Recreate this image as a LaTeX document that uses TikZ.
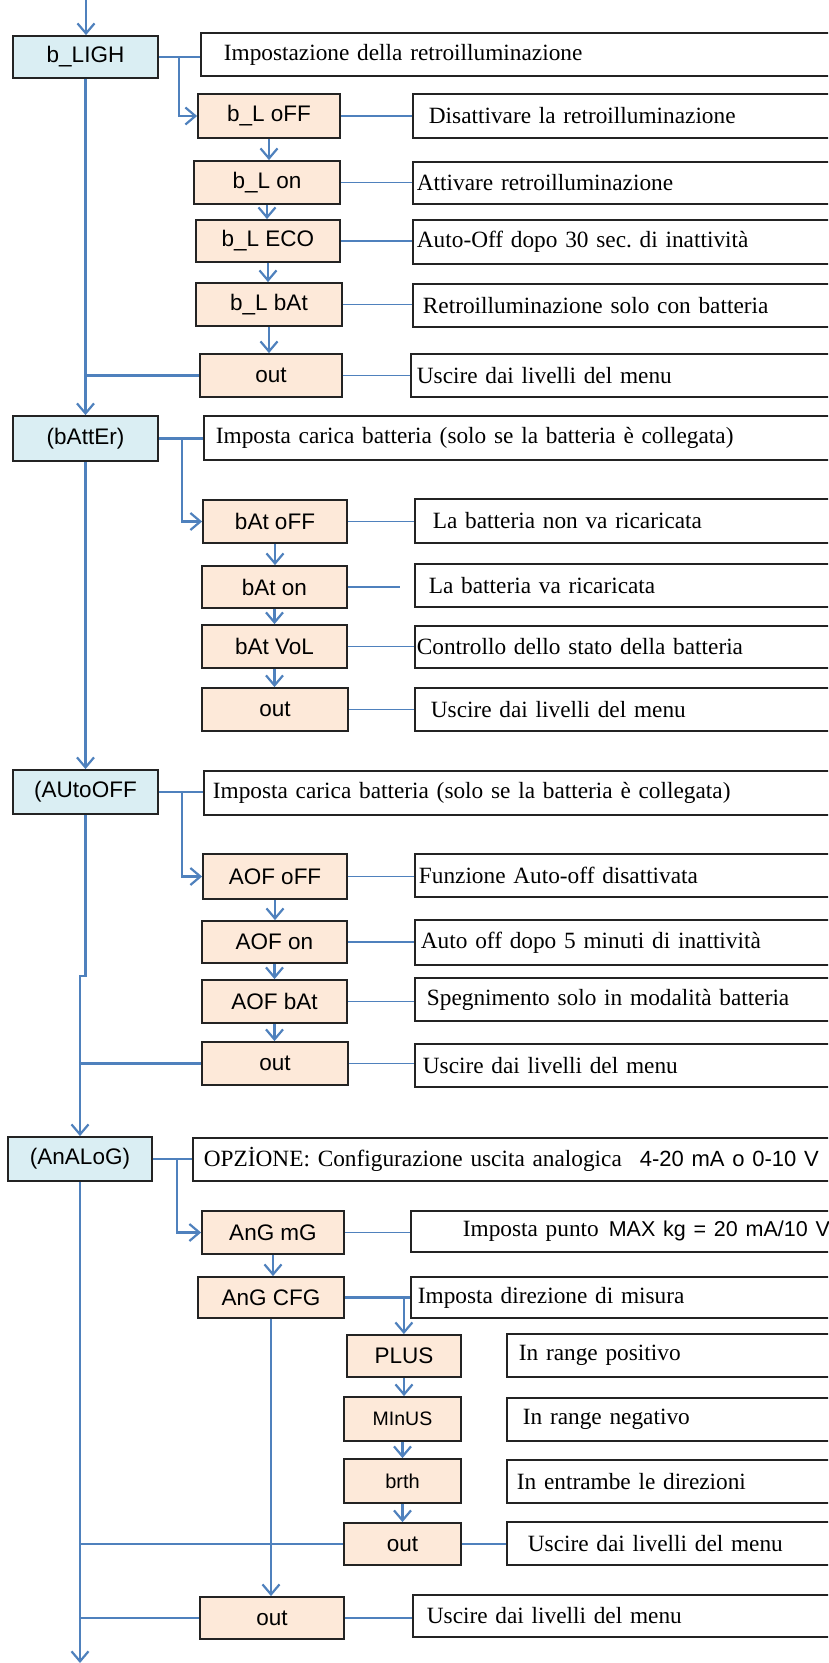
\documentclass[tikz,border=0pt]{standalone}
\usepackage{fontspec}
\setmainfont{Liberation Serif}
\setsansfont{Liberation Sans}
\usetikzlibrary{arrows.meta,calc}
\definecolor{lineblue}{RGB}{79,129,189}
\definecolor{mainfill}{RGB}{218,238,243}
\definecolor{subfill}{RGB}{253,233,217}
\definecolor{bordercol}{RGB}{35,35,35}
\newcommand\mkbox[7]{%
  \pgfmathsetmacro\bw{#5-#3}\pgfmathsetmacro\bh{#6-#4}%
  \pgfmathsetmacro\bcx{(#3+#5)/2}\pgfmathsetmacro\bcy{(#4+#6)/2}%
  \node[#1, minimum width=\bw pt, minimum height=\bh pt] (#2) at (\bcx,\bcy) {#7};}
\newcommand\mkdesc[6]{%
  \pgfmathsetmacro\dh{#4-#3}\pgfmathsetmacro\dcy{(#3+#4)/2}%
  \pgfmathsetmacro\dtw{840-#2}%
  \node[desc, minimum height=\dh pt, text width=\dtw pt, anchor=west] (#1) at (#2,\dcy) {\hspace*{#5pt}#6};}
\begin{document}
\frenchspacing
\begin{tikzpicture}[x=1pt,y=-1pt,
  mainbox/.style={draw=bordercol, line width=1.8pt, fill=mainfill, inner sep=0pt,
    font=\sffamily\fontsize{22.5}{26}\selectfont},
  subbox/.style={draw=bordercol, line width=1.8pt, fill=subfill, inner sep=0pt,
    font=\sffamily\fontsize{22.5}{26}\selectfont},
  desc/.style={draw=bordercol, line width=1.8pt, fill=white, inner sep=0pt, align=left,
    font=\fontsize{23.3}{27}\selectfont},
  conn/.style={draw=lineblue, line width=2.2pt},
  thinconn/.style={draw=lineblue, line width=1.6pt},
  arr/.style={conn, -{Straight Barb[length=10pt,width=17pt]}}]
\useasboundingbox (0,0) rectangle (828,1663);
\clip (0,0) rectangle (828,1663);
% ---------- main boxes
\mkbox{mainbox}{m1}{13}{36}{158}{78}{b\_LIGH}
\mkbox{mainbox}{m2}{13}{416}{158}{461}{(bAttEr)}
\mkbox{mainbox}{m3}{13}{770}{158}{814}{(AUtoOFF}
\mkbox{mainbox}{m4}{8}{1137}{152}{1181}{(AnALoG)}
% ---------- sub boxes
\mkbox{subbox}{s11}{198}{94}{340}{138}{b\_L oFF}
\mkbox{subbox}{s12}{194}{161}{340}{204}{b\_L on}
\mkbox{subbox}{s13}{196}{220}{340}{262}{b\_L ECO}
\mkbox{subbox}{s14}{196}{283}{342}{326}{b\_L bAt}
\mkbox{subbox}{s15}{200}{354}{342}{397}{out}
\mkbox{subbox}{s21}{203}{500}{347}{543}{bAt oFF}
\mkbox{subbox}{s22}{202}{566}{347}{608}{bAt on}
\mkbox{subbox}{s23}{202}{625}{347}{668}{bAt VoL}
\mkbox{subbox}{s24}{202}{688}{348}{731}{out}
\mkbox{subbox}{s31}{203}{854}{347}{899}{AOF oFF}
\mkbox{subbox}{s32}{202}{921}{347}{963}{AOF on}
\mkbox{subbox}{s33}{202}{980}{347}{1023}{AOF bAt}
\mkbox{subbox}{s34}{202}{1042}{348}{1085}{out}
\mkbox{subbox}{s41}{202}{1211}{344}{1254}{AnG mG}
\mkbox{subbox}{s42}{198}{1277}{344}{1318}{AnG CFG}
\mkbox{subbox}{t1}{347}{1335}{461}{1377}{PLUS}
\mkbox{subbox,font=\sffamily\fontsize{19.5}{24}\selectfont}{t2}{344}{1397}{461}{1441}{MInUS}
\mkbox{subbox,font=\sffamily\fontsize{20}{24}\selectfont}{t3}{344}{1459}{461}{1503}{brth}
\mkbox{subbox}{t4}{344}{1523}{461}{1565}{out}
\mkbox{subbox}{s43}{200}{1597}{344}{1639}{out}
% ---------- description boxes
\mkdesc{d1}{200}{33}{76}{23}{Impostazione della retroilluminazione}
\mkdesc{d11}{412}{94}{138}{16}{Disattivare la retroilluminazione}
\mkdesc{d12}{412}{162}{204}{4}{Attivare retroilluminazione}
\mkdesc{d13}{412}{220}{264}{4}{Auto-Off dopo 30 sec. di inattività}
\mkdesc{d14}{412}{284}{327}{10}{Retroilluminazione solo con batteria}
\mkdesc{d15}{410}{354}{397}{6}{Uscire dai livelli del menu}
\mkdesc{d2}{203}{416}{460}{12}{Imposta carica batteria (solo se la batteria è collegata)}
\mkdesc{d21}{414}{499}{543}{18}{La batteria non va ricaricata}
\mkdesc{d22}{414}{564}{607}{14}{La batteria va ricaricata}
\mkdesc{d23}{414}{626}{668}{2}{Controllo dello stato della batteria}
\mkdesc{d24}{414}{688}{731}{16}{Uscire dai livelli del menu}
\mkdesc{d3}{203}{771}{815}{9}{Imposta carica batteria (solo se la batteria è collegata)}
\mkdesc{d31}{414}{854}{897}{4}{Funzione Auto-off disattivata}
\mkdesc{d32}{414}{920}{965}{6}{Auto off dopo 5 minuti di inattività}
\mkdesc{d33}{414}{978}{1021}{12}{Spegnimento solo in modalità batteria}
\mkdesc{d34}{414}{1044}{1087}{8}{Uscire dai livelli del menu}
\mkdesc{d4}{192}{1138}{1181}{11}{OPZİONE: Configurazione uscita analogica\hspace{18pt}{\sffamily\fontsize{22}{26}\selectfont 4-20 mA o 0-10 V}}
\mkdesc{d41}{410}{1211}{1252}{52}{Imposta punto\hspace{10pt}{\sffamily\fontsize{21.5}{26}\selectfont MAX kg = 20 mA/10 V}}
\mkdesc{d42}{410}{1277}{1318}{7}{Imposta direzione di misura}
\mkdesc{e1}{506}{1334}{1377}{12}{In range positivo}
\mkdesc{e2}{506}{1398}{1441}{16}{In range negativo}
\mkdesc{e3}{506}{1460}{1503}{10}{In entrambe le direzioni}
\mkdesc{e4}{506}{1522}{1565}{21}{Uscire dai livelli del menu}
\mkdesc{d43}{412}{1595}{1637}{14}{Uscire dai livelli del menu}
% ---------- section 1
\coordinate (top) at (86,0);
\draw[arr] (top) -- (top |- m1.north);
\draw[conn] (m1.east) -- (m1.east -| d1.west);
\coordinate (b1) at ($(m1.east)+(20,0)$);
\draw[arr] (b1) |- (s11.west);
\draw[arr] (s11.south) -- (s11.south |- s12.north);
\draw[arr] (s12.south) -- (s12.south |- s13.north);
\draw[arr] (s13.south) -- (s13.south |- s14.north);
\draw[arr] (s14.south) -- (s14.south |- s15.north);
\draw[thinconn] (s11.east) -- (s11.east -| d11.west);
\draw[thinconn] (s12.east) -- (s12.east -| d12.west);
\draw[thinconn] (s13.east) -- (s13.east -| d13.west);
\draw[thinconn] (s14.east) -- (s14.east -| d14.west);
\draw[thinconn] (s15.east) -- (s15.east -| d15.west);
\draw[conn] (s15.west) -- (s15.west -| m1.south);
\draw[arr] (m1.south) -- (m1.south |- m2.north);
% ---------- section 2
\draw[conn] (m2.east) -- (m2.east -| d2.west);
\coordinate (b2) at ($(m2.east)+(23,0)$);
\draw[arr] (b2) |- (s21.west);
\draw[arr] (s21.south) -- (s21.south |- s22.north);
\draw[arr] (s22.south) -- (s22.south |- s23.north);
\draw[arr] (s23.south) -- (s23.south |- s24.north);
\draw[thinconn] (s21.east) -- (s21.east -| d21.west);
\coordinate (g22) at ($(s22.east)+(52,0)$);
\draw[thinconn] (s22.east) -- (g22);
\draw[thinconn] (s23.east) -- (s23.east -| d23.west);
\draw[thinconn] (s24.east) -- (s24.east -| d24.west);
\draw[arr] (m2.south) -- (m2.south |- m3.north);
% ---------- section 3
\draw[conn] (m3.east) -- (m3.east -| d3.west);
\coordinate (b3) at ($(m3.east)+(23,0)$);
\draw[arr] (b3) |- (s31.west);
\draw[arr] (s31.south) -- (s31.south |- s32.north);
\draw[arr] (s32.south) -- (s32.south |- s33.north);
\draw[arr] (s33.south) -- (s33.south |- s34.north);
\draw[thinconn] (s31.east) -- (s31.east -| d31.west);
\draw[thinconn] (s32.east) -- (s32.east -| d32.west);
\draw[thinconn] (s33.east) -- (s33.east -| d33.west);
\draw[thinconn] (s34.east) -- (s34.east -| d34.west);
\coordinate (j3) at ($(m3.south)+(0,161)$);
\draw[arr] (m3.south) -- (j3) -| (m4.north);
\draw[conn] (s34.west) -- (s34.west -| m4.north);
% ---------- section 4
\draw[conn] (m4.east) -- (m4.east -| d4.west);
\coordinate (b4) at ($(m4.east)+(24,0)$);
\draw[arr] (b4) |- (s41.west);
\draw[thinconn] (s41.east) -- (s41.east -| d41.west);
\draw[arr] (s41.south) -- (s41.south |- s42.north);
\draw[conn] (s42.east) -- (s42.east -| d42.west);
\coordinate (b5) at ($(s42.east)+(59,0)$);
\draw[arr] (b5) -- (b5 |- t1.north);
\draw[arr] (t1.south) -- (t1.south |- t2.north);
\draw[arr] (t2.south) -- (t2.south |- t3.north);
\draw[arr] (t3.south) -- (t3.south |- t4.north);
\draw[thinconn] (t4.east) -- (t4.east -| e4.west);
\draw[conn] (t4.west) -- (t4.west -| m4.south);
\draw[arr] (s42.south) -- (s42.south |- s43.north);
\draw[thinconn] (s43.east) -- (s43.east -| d43.west);
\draw[conn] (s43.west) -- (s43.west -| m4.south);
\coordinate (bot) at (80,1663);
\draw[arr] (m4.south) -- (m4.south |- bot);
\end{tikzpicture}
\end{document}
